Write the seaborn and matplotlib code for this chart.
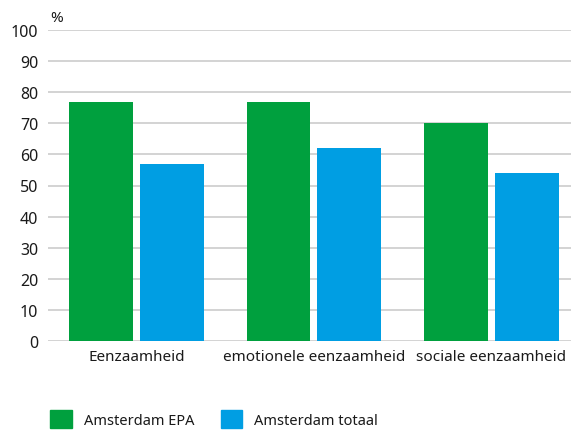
import pandas as pd
import matplotlib
matplotlib.use("Agg")
import matplotlib.pyplot as plt
import matplotlib.patches as mpatches
import seaborn as sns

categories = ["Eenzaamheid", "emotionele eenzaamheid", "sociale eenzaamheid"]
series = ["Amsterdam EPA", "Amsterdam totaal"]
epa = [77, 77, 70]
totaal = [57, 62, 54]
colors = ["#00A03E", "#009EE3"]
yticks = list(range(0, 101, 10))

df = pd.DataFrame({
    "categorie": categories * 2,
    "groep": [series[0]] * 3 + [series[1]] * 3,
    "waarde": epa + totaal,
})

sns.set_style("white")
plt.rcParams["font.family"] = ["Noto Sans", "DejaVu Sans"]

fig = plt.figure(figsize=(5.71, 4.31), dpi=100)
ax = fig.add_axes([48 / 571, 89 / 431, 1 - 48 / 571, 311 / 431])

sns.barplot(data=df, x="categorie", y="waarde", hue="groep", palette=colors,
            width=0.8, gap=0.1, saturation=1, linewidth=0, legend=False, ax=ax)

ax.set_ylim(0, 100)
ax.set_xlim(-0.5, 2.45)
ax.set_yticks(yticks)
ax.yaxis.grid(True, color="#c8c8c8", linewidth=1.1)
ax.set_axisbelow(True)
for s in ax.spines.values():
    s.set_visible(False)
ax.tick_params(axis="y", length=0, labelsize=11.5, colors="#1a1a1a", pad=7)
ax.tick_params(axis="x", length=0, labelsize=11, colors="#1a1a1a", pad=6)
ax.set_xlabel("")
ax.set_ylabel("")
fig.text(50 / 571, 1 - 18 / 431, "%", fontsize=11, color="#1a1a1a", va="center")

handles = [mpatches.Patch(color=c, label=l) for c, l in zip(colors, series)]
fig.legend(handles=handles, loc="lower left", bbox_to_anchor=(0.065, -0.025),
           ncol=2, frameon=False, fontsize=10.5, handlelength=1.5, handleheight=1.5,
           handletextpad=0.8, columnspacing=1.8, labelcolor="#1a1a1a")

fig.savefig("out.png", dpi=100)
